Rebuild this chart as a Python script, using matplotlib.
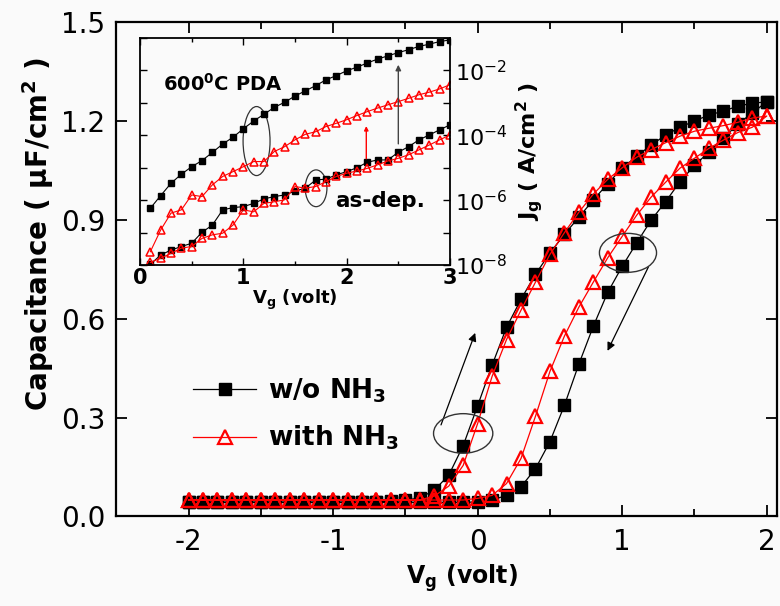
import numpy as np
import matplotlib
matplotlib.use("Agg")
import matplotlib.pyplot as plt
from matplotlib.patches import Ellipse
from matplotlib.ticker import FixedLocator, FuncFormatter, MultipleLocator

plt.rcParams["font.family"] = ["DejaVu Sans"]
plt.rcParams["axes.unicode_minus"] = False
plt.rcParams["mathtext.fontset"] = "dejavusans"

# C-V sweep, -2 V -> +2 V and back, 0.1 V steps
v_up = np.round(np.arange(-2.0, 2.01, 0.1), 1)
v_down = v_up[::-1]

# capacitance (uF/cm^2), w/o NH3
c_wo_up = [0.043] * 13 + [0.044, 0.046, 0.050, 0.056, 0.080, 0.125, 0.215,
           0.336, 0.459, 0.574, 0.659, 0.735, 0.799, 0.856, 0.908, 0.960, 1.010,
           1.057, 1.093, 1.127, 1.157, 1.181, 1.200, 1.218, 1.230, 1.245, 1.254, 1.258]
c_wo_down = [1.258, 1.225, 1.190, 1.148, 1.106, 1.065, 1.016, 0.955, 0.899, 0.830,
             0.759, 0.680, 0.577, 0.462, 0.337, 0.227, 0.145, 0.090, 0.064, 0.050,
             0.044] + [0.043] * 20

# capacitance (uF/cm^2), with NH3
c_with_up = [0.050] * 17 + [0.062, 0.092, 0.155,
             0.282, 0.425, 0.537, 0.626, 0.711, 0.795, 0.861, 0.923, 0.978, 1.023,
             1.058, 1.090, 1.113, 1.134, 1.154, 1.169, 1.178, 1.186, 1.196, 1.209, 1.215]
c_with_down = [1.215, 1.181, 1.165, 1.142, 1.117, 1.087, 1.057, 1.014, 0.969, 0.914,
               0.850, 0.785, 0.711, 0.635, 0.547, 0.440, 0.304, 0.176, 0.100, 0.064,
               0.055] + [0.050] * 20

# gate leakage, log10(Jg / A cm^-2), 0.1 V .. 3.0 V
v_leak = np.round(np.arange(0.1, 3.01, 0.1), 1)
jg_pda_wo = [-6.25, -5.86, -5.48, -5.20, -4.97, -4.78, -4.53, -4.27, -4.06, -3.80,
             -3.56, -3.35, -3.14, -2.98, -2.79, -2.63, -2.47, -2.29, -2.16, -2.01,
             -1.90, -1.77, -1.65, -1.55, -1.45, -1.36, -1.26, -1.19, -1.11, -1.06]
jg_pda_with = [-7.59, -6.92, -6.40, -6.30, -5.84, -5.89, -5.53, -5.27, -5.12, -4.97,
               -4.81, -4.81, -4.50, -4.35, -4.14, -3.97, -3.89, -3.73, -3.63, -3.52,
               -3.39, -3.27, -3.16, -3.06, -2.96, -2.86, -2.75, -2.67, -2.57, -2.44]
jg_asdep_wo = [-7.98, -7.69, -7.54, -7.43, -7.33, -6.99, -6.77, -6.30, -6.23, -6.20,
               -6.10, -5.96, -5.89, -5.84, -5.72, -5.63, -5.38, -5.35, -5.22, -5.12,
               -5.00, -4.83, -4.76, -4.76, -4.52, -4.35, -4.14, -3.99, -3.83, -3.68]
jg_asdep_with = [-7.92, -7.79, -7.64, -7.48, -7.43, -7.18, -7.07, -7.02, -6.77, -6.30,
                 -6.36, -6.10, -6.05, -5.99, -5.58, -5.63, -5.58, -5.43, -5.27, -5.17,
                 -5.10, -5.02, -4.91, -4.79, -4.71, -4.60, -4.45, -4.30, -4.14, -3.99]

bg = "#fafafa"
fig = plt.figure(figsize=(7.8, 6.06), dpi=100, facecolor=bg)
ax = fig.add_axes([0.149, 0.1477, 0.847, 0.8158], facecolor=bg)

v_loop = np.concatenate([v_up, v_down])
ax.plot(v_loop, c_wo_up + c_wo_down, color="k", lw=0.9, marker="s", ms=8,
        mfc="k", mec="k", label=r"w/o NH$_\mathbf{3}$", zorder=3)
ax.plot(v_loop, c_with_up + c_with_down, color="red", lw=0.9, marker="^", ms=10,
        mfc="none", mec="red", mew=1.6, label=r"with NH$_\mathbf{3}$", zorder=4)

ax.set_xlim(-2.5, 2.07)
ax.set_ylim(0, 1.5)
ax.xaxis.set_major_locator(MultipleLocator(1))
ax.xaxis.set_minor_locator(MultipleLocator(0.5))
ax.yaxis.set_major_locator(MultipleLocator(0.3))
ax.yaxis.set_major_formatter(FuncFormatter(lambda v, p: f"{v:.1f}"))
ax.tick_params(which="both", direction="in", top=True, right=True, width=1.3,
               labelsize=20, pad=8)
ax.tick_params(which="major", length=8)
ax.tick_params(which="minor", length=5)
for s in ax.spines.values():
    s.set_linewidth(1.6)

fig.text(38 / 780, 1 - 234 / 606, r"Capacitance ( $\mathbf{\mu}$F/cm$^\mathbf{2}$ )",
         rotation=90, ha="center", va="center", fontsize=20, fontweight="bold")
fig.text(462 / 780, 1 - 578 / 606, r"V$_\mathbf{g}$ (volt)", ha="center",
         va="center", fontsize=17, fontweight="bold")

leg = ax.legend(loc="upper left", bbox_to_anchor=(0.10, 0.305), frameon=False,
                fontsize=19, handlelength=2.4, handletextpad=0.45, labelspacing=0.72,
                borderaxespad=0)
for t in leg.get_texts():
    t.set_fontweight("bold")

# sweep-direction marks
ell_kw = dict(fill=False, ec="#333333", lw=1.0, zorder=5)
ax.add_patch(Ellipse((-0.10, 0.252), 0.41, 0.12, **ell_kw))
ax.add_patch(Ellipse((1.04, 0.80), 0.395, 0.118, **ell_kw))
arr_kw = dict(arrowstyle="-|>", color="k", lw=0.9, mutation_scale=12)
ax.annotate("", xy=(-0.01, 0.565), xytext=(-0.26, 0.27), arrowprops=arr_kw)
ax.annotate("", xy=(0.89, 0.495), xytext=(1.19, 0.765), arrowprops=arr_kw)

# inset: gate leakage
ins = fig.add_axes([0.1795, 0.5627, 0.3974, 0.3746], facecolor=bg)
ins.set_yscale("log")
ins.plot(v_leak, 10 ** np.array(jg_pda_wo), color="k", lw=0.8, marker="s", ms=4.5)
ins.plot(v_leak, 10 ** np.array(jg_pda_with), color="red", lw=0.8, marker="^", ms=6,
         mfc="none", mec="red", mew=1.1)
ins.plot(v_leak, 10 ** np.array(jg_asdep_wo), color="k", lw=0.8, marker="s", ms=4.5)
ins.plot(v_leak, 10 ** np.array(jg_asdep_with), color="red", lw=0.8, marker="^", ms=6,
         mfc="none", mec="red", mew=1.1)
ins.set_xlim(0, 3)
ins.set_ylim(1e-8, 1e-1)
ins.xaxis.set_major_locator(MultipleLocator(1))
ins.xaxis.set_minor_locator(MultipleLocator(0.5))
ins.yaxis.set_major_locator(FixedLocator([10.0 ** k for k in range(-8, 0)]))
ins.yaxis.set_minor_locator(FixedLocator([]))
ins.yaxis.set_major_formatter(FuncFormatter(
    lambda v, p: "" if round(np.log10(v)) % 2 else f"$10^{{{round(np.log10(v))}}}$"))
ins.tick_params(which="both", direction="in", top=True, right=True, width=1.0)
ins.tick_params(axis="y", labelleft=False, labelright=True, labelsize=16, length=5)
ins.tick_params(axis="x", labelsize=15, length=5, pad=2)
ins.tick_params(which="minor", length=3)
for t in ins.get_xticklabels():
    t.set_fontweight("bold")
for s in ins.spines.values():
    s.set_linewidth(1.3)
ins.set_xlabel(r"V$_\mathbf{g}$ (volt)", fontsize=13, fontweight="bold", labelpad=0)
ins.yaxis.set_label_position("right")
ins.set_ylabel(r"J$_\mathbf{g}$ ( A/cm$^\mathbf{2}$ )", fontsize=16,
               fontweight="bold", labelpad=4)

ins.text(0.075, 0.80, r"600$^\mathbf{0}$C PDA", transform=ins.transAxes,
         fontsize=14, fontweight="bold", va="center")
ins.text(0.63, 0.28, "as-dep.", transform=ins.transAxes, fontsize=15.5,
         fontweight="bold", va="center")
ins.add_patch(Ellipse((0.376, 0.546), 0.087, 0.304, transform=ins.transAxes,
                      fill=False, ec="#333333", lw=0.9))
ins.add_patch(Ellipse((0.568, 0.338), 0.07, 0.162, transform=ins.transAxes,
                      fill=False, ec="#333333", lw=0.9))
ins.annotate("", xy=(2.5, 10 ** -1.74), xytext=(2.5, 10 ** -4.35),
             arrowprops=dict(arrowstyle="-|>", color="#444444", lw=1.0, mutation_scale=8))
ins.annotate("", xy=(2.19, 10 ** -3.63), xytext=(2.19, 10 ** -4.81),
             arrowprops=dict(arrowstyle="-|>", color="red", lw=1.0, mutation_scale=6))

fig.savefig("out.png", dpi=100, facecolor=bg)
